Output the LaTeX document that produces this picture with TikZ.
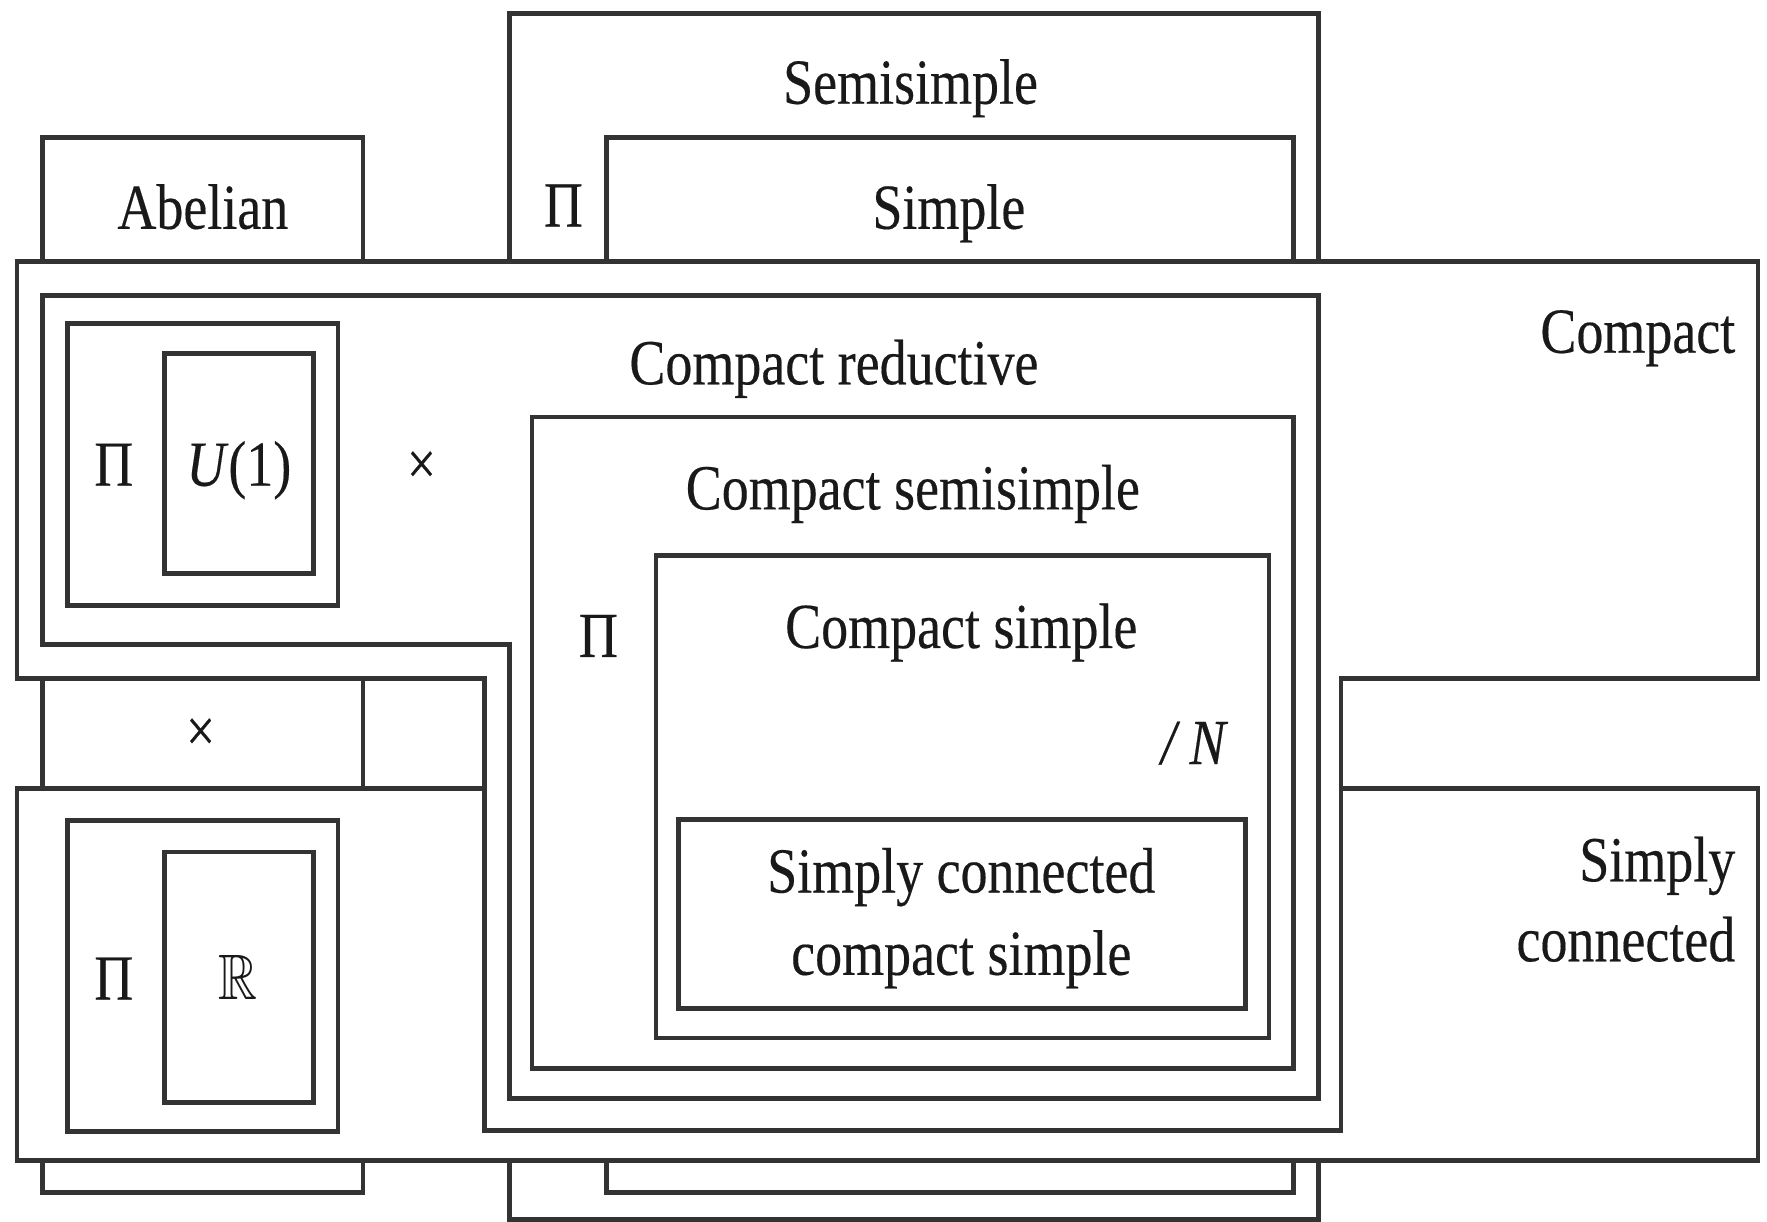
\documentclass[tikz,border=0pt]{standalone}
\usepackage{fontspec}
\usepackage{graphicx}
\usepackage{amssymb}
\setmainfont{Liberation Serif}[FakeBold=0.3]
\newcommand{\sqz}[1]{\scalebox{0.84}[1]{#1}}
\begin{document}
\begin{tikzpicture}[x=1pt,y=-1pt,
  box/.style={draw=black!80, line width=4.2pt, fill=white, line join=miter},
  lbl/.style={inner sep=0pt, anchor=base, text=black!90, font=\fontsize{57}{68}\selectfont},
  lblr/.style={lbl, anchor=base east},
  small/.style={inner sep=0pt, anchor=center, text=black!90, font=\fontsize{54}{60}\selectfont},
]
\useasboundingbox (0,0) rectangle (1568,1084);
% outer layered boxes
\draw[box] (452,12) rectangle (1170,1082);   % Semisimple
\draw[box] (538,122) rectangle (1148,1058);  % Simple
\draw[box] (38,122) rectangle (322,1058);    % Abelian
% Compact
\draw[box] (15,232) -- (1560,232) -- (1560,602) -- (1190,602) -- (1190,1003)
  -- (430,1003) -- (430,602) -- (15,602) -- cycle;
% Simply connected
\draw[box] (15,700) -- (430,700) -- (430,1003) -- (1190,1003) -- (1190,700)
  -- (1560,700) -- (1560,1030) -- (15,1030) -- cycle;
% Compact reductive
\draw[box] (38,262) -- (1170,262) -- (1170,975) -- (452,975) -- (452,572)
  -- (38,572) -- cycle;
% U(1) boxes
\draw[box] (60,287) rectangle (300,537);
\draw[box] (146,314) rectangle (278,509);
% R boxes
\draw[box] (60,728) rectangle (300,1004);
\draw[box] (146,756) rectangle (278,978);
% Compact semisimple, compact simple, simply connected compact simple
\draw[box] (472,370) rectangle (1148,948);
\draw[box] (582,493) rectangle (1126,921);
\draw[box] (602,727) rectangle (1105,895);

% labels
\node[lbl] (tsemi) at (808,92) {\sqz{Semisimple}};
\node[lbl] (tabel) at (180,203) {\sqz{Abelian}};
\node[lbl] (tpi1) at (500,201) {\sqz{Π}};
\node[lbl] (tsimple) at (842,203) {\sqz{Simple}};
\node[lblr] (tcompact) at (1540,313) {\sqz{Compact}};
\node[lbl] (tcred) at (740,341) {\sqz{Compact reductive}};
\node[lbl] (tpi2) at (101,431) {\sqz{Π}};
\node[lbl] (tu1) at (212,431) {\sqz{\textit{U}(1)}};
\node[small] (times1) at (374,415) {\sqz{×}};
\node[lbl] (tcss) at (810,452) {\sqz{Compact semisimple}};
\node[lbl] (tpi3) at (531,583) {\sqz{Π}};
\node[lbl] (tcs) at (853,575) {\sqz{Compact simple}};
\node[lbl] (tN) at (1060,678) {\sqz{\textit{/ N}}};
\node[small] (times2) at (178,652) {\sqz{×}};
\node[lbl] (tsc1) at (853,792) {\sqz{Simply connected}};
\node[lbl] (tsc2) at (853,865) {\sqz{compact simple}};
\node[lblr] (tsimply) at (1540,782) {\sqz{Simply}};
\node[lblr] (tconn) at (1540,853) {\sqz{connected}};
\node[lbl] (tpi4) at (101,887) {\sqz{Π}};
\node[lbl] (tR) at (211,887) {\sqz{$\mathbb{R}$}};
\end{tikzpicture}
\end{document}
